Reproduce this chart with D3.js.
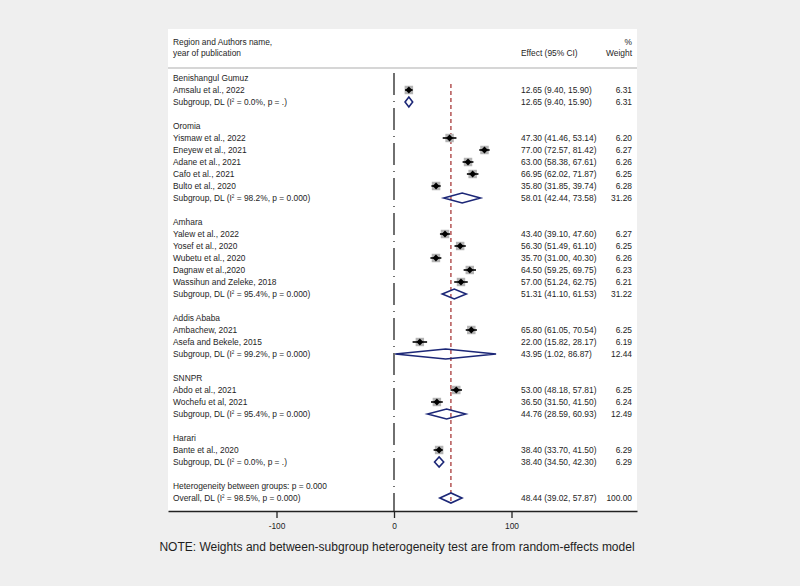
<!DOCTYPE html>
<html><head><meta charset="utf-8">
<script src="https://cdn.jsdelivr.net/npm/d3@7"></script>
<style>
body{margin:0;background:#efefef;}
svg{display:block;font-family:"Liberation Sans",Arial,sans-serif;}
</style>
</head><body><svg id="c" width="800" height="586"></svg>
<script>
// ---------- data ----------
const groupNames = ["Benishangul Gumuz","Oromia","Amhara","Addis Ababa","SNNPR","Harari"];
const studyNames = ["Amsalu et al., 2022",
  "Yismaw et al., 2022","Eneyew et al., 2021","Adane et al., 2021","Cafo et al., 2021","Bulto et al., 2020",
  "Yalew et al., 2022","Yosef et al., 2020","Wubetu et al., 2020","Dagnaw et al.,2020","Wassihun and Zeleke, 2018",
  "Ambachew, 2021","Asefa and Bekele, 2015",
  "Abdo et al., 2021","Wochefu et al, 2021",
  "Bante et al., 2020"];
const studyGroup = [0, 1,1,1,1,1, 2,2,2,2,2, 3,3, 4,4, 5];
const studyES = [12.65, 47.30,77.00,63.00,66.95,35.80, 43.40,56.30,35.70,64.50,57.00, 65.80,22.00, 53.00,36.50, 38.40];
const studyLo = [9.40, 41.46,72.57,58.38,62.02,31.85, 39.10,51.49,31.00,59.25,51.24, 61.05,15.82, 48.18,31.50, 33.70];
const studyHi = [15.90, 53.14,81.42,67.61,71.87,39.74, 47.60,61.10,40.30,69.75,62.75, 70.54,28.17, 57.81,41.50, 41.50];
const studyWt = [6.31, 6.20,6.27,6.26,6.25,6.28, 6.27,6.25,6.26,6.23,6.21, 6.25,6.19, 6.25,6.24, 6.29];

const subI2 = ["0.0","98.2","95.4","99.2","95.4","0.0"];
const subP  = [".","0.000","0.000","0.000","0.000","."];
const subES = [12.65,58.01,51.31,43.95,44.76,38.40];
const subLo = [9.40,42.44,41.10,1.02,28.59,34.50];
const subHi = [15.90,73.58,61.53,86.87,60.93,42.30];
const subWt = [6.31,31.26,31.22,12.44,12.49,6.29];

const overallES = 48.44, overallLo = 39.02, overallHi = 57.87, overallWt = 100.00;
const overallI2 = "98.5", overallP = "0.000", hetP = "0.000";
const xTicks = [-100, 0, 100];

// ---------- rows ----------
const rows = [];
groupNames.forEach((g, gi) => {
  rows.push({type:"group", label:g});
  studyNames.forEach((s, si) => {
    if (studyGroup[si] === gi) rows.push({type:"study", label:s, es:studyES[si], lo:studyLo[si], hi:studyHi[si], wt:studyWt[si]});
  });
  rows.push({type:"sub", pre:"Subgroup, DL (I", post:" = " + subI2[gi] + "%, p = " + subP[gi] + ")",
             es:subES[gi], lo:subLo[gi], hi:subHi[gi], wt:subWt[gi]});
  rows.push({type:"blank"});
});
rows.push({type:"het", label:"Heterogeneity between groups: p = " + hetP});
rows.push({type:"overall", pre:"Overall, DL (I", post:" = " + overallI2 + "%, p = " + overallP + ")",
           es:overallES, lo:overallLo, hi:overallHi, wt:overallWt});
rows.forEach((r, i) => r.i = i);

// ---------- layout ----------
const svg = d3.select("#c");
const W = 800, H = 586;
const panel = {x0:168, x1:637, y0:29, y1:511};
const fs = 8.4;
const f2 = d3.format(".2f");

const xBase = d3.scaleLinear().domain([-100, 100]).range([276.5, 511.5]);
const x = d3.scaleLinear().domain([xBase.invert(panel.x0), xBase.invert(panel.x1)]).range([panel.x0, panel.x1]);
const y = d3.scaleLinear().domain([0, rows.length - 1]).range([78, 498]);
const boxSide = d3.scaleSqrt().domain([0, 6.31]).range([0, 8.5]);

svg.append("rect").attr("width", W).attr("height", H).attr("fill", "#efefef");
svg.append("rect").attr("x", panel.x0).attr("y", panel.y0)
  .attr("width", panel.x1 - panel.x0).attr("height", panel.y1 - panel.y0).attr("fill", "#ffffff");

// header
const txt = "#1e1e1e";
svg.append("text").attr("x", 173).attr("y", 45).attr("font-size", fs).attr("fill", txt).text("Region and Authors name,");
svg.append("text").attr("x", 173).attr("y", 56).attr("font-size", fs).attr("fill", txt).text("year of publication");
svg.append("text").attr("x", 521).attr("y", 56).attr("font-size", fs).attr("fill", txt).text("Effect (95% CI)");
svg.append("text").attr("x", 632).attr("y", 45).attr("font-size", fs).attr("fill", txt).attr("text-anchor", "end").text("%");
svg.append("text").attr("x", 632).attr("y", 56).attr("font-size", fs).attr("fill", txt).attr("text-anchor", "end").text("Weight");
svg.append("line").attr("x1", panel.x0).attr("x2", panel.x1).attr("y1", 68).attr("y2", 68)
  .attr("stroke", "#c8c8c8").attr("stroke-width", 1.5);

// null line at 0
svg.append("line").attr("x1", x(0)).attr("x2", x(0)).attr("y1", 73).attr("y2", panel.y1)
  .attr("stroke", "#111").attr("stroke-width", 1.2).attr("stroke-dasharray", "22,6,1,6");

// overall effect line
svg.append("line").attr("x1", x(overallES)).attr("x2", x(overallES)).attr("y1", 84).attr("y2", 503)
  .attr("stroke", "#a83a3a").attr("stroke-width", 1.3).attr("stroke-dasharray", "4,3");

// studies
const st = rows.filter(r => r.type === "study");
svg.append("g").selectAll("rect").data(st).join("rect")
  .attr("x", d => x(d.es) - boxSide(d.wt)/2).attr("y", d => y(d.i) - boxSide(d.wt)/2)
  .attr("width", d => boxSide(d.wt)).attr("height", d => boxSide(d.wt)).attr("fill", "#b4b4b4");
svg.append("g").selectAll("line").data(st).join("line")
  .attr("x1", d => x(d.lo)).attr("x2", d => x(d.hi)).attr("y1", d => y(d.i)).attr("y2", d => y(d.i))
  .attr("stroke", "#000").attr("stroke-width", 1.6);
svg.append("g").selectAll("path").data(st).join("path")
  .attr("d", d => { const cx = x(d.es), cy = y(d.i), r = 3.4;
    return `M${cx},${cy-r}L${cx+r},${cy}L${cx},${cy+r}L${cx-r},${cy}Z`; })
  .attr("fill", "#000");

// pooled diamonds
const pooled = rows.filter(r => r.type === "sub" || r.type === "overall");
svg.append("g").selectAll("path").data(pooled).join("path")
  .attr("d", d => { const cy = y(d.i), h = 5;
    return `M${x(d.lo)},${cy}L${x(d.es)},${cy-h}L${x(d.hi)},${cy}L${x(d.es)},${cy+h}Z`; })
  .attr("fill", "none").attr("stroke", "#1c2777").attr("stroke-width", 1.6);

// left labels
const lab = svg.append("g").attr("font-size", fs).attr("fill", txt);
rows.forEach(r => {
  if (r.type === "blank") return;
  const t = lab.append("text").attr("x", 173).attr("y", y(r.i) + 3);
  if (r.type === "sub" || r.type === "overall") {
    t.append("tspan").text(r.pre);
    t.append("tspan").attr("font-size", 4.5).attr("dy", -3.5).text("2");
    t.append("tspan").attr("dy", 3.5).text(r.post);
  } else {
    t.text(r.label);
  }
  if (r.es !== undefined) {
    lab.append("text").attr("x", 521).attr("y", y(r.i) + 3)
      .text(f2(r.es) + " (" + f2(r.lo) + ", " + f2(r.hi) + ")");
    lab.append("text").attr("x", 632).attr("y", y(r.i) + 3).attr("text-anchor", "end").text(f2(r.wt));
  }
});

// axis
const ax = svg.append("g").attr("transform", `translate(0,${panel.y1})`)
  .call(d3.axisBottom(x).tickValues(xTicks).tickSize(7).tickSizeOuter(0).tickPadding(5).tickFormat(d => String(d)));
ax.select(".domain").attr("stroke", "#222").attr("stroke-width", 1.3);
ax.selectAll(".tick line").attr("stroke", "#222").attr("stroke-width", 1.3);
ax.selectAll(".tick text").attr("font-size", fs).attr("fill", txt)
  .attr("font-family", "'Liberation Sans',Arial,sans-serif");

// note
svg.append("text").attr("x", 397).attr("y", 551).attr("text-anchor", "middle")
  .attr("font-size", 12).attr("fill", "#1e1e1e")
  .text("NOTE: Weights and between-subgroup heterogeneity test are from random-effects model");
</script></body></html>
